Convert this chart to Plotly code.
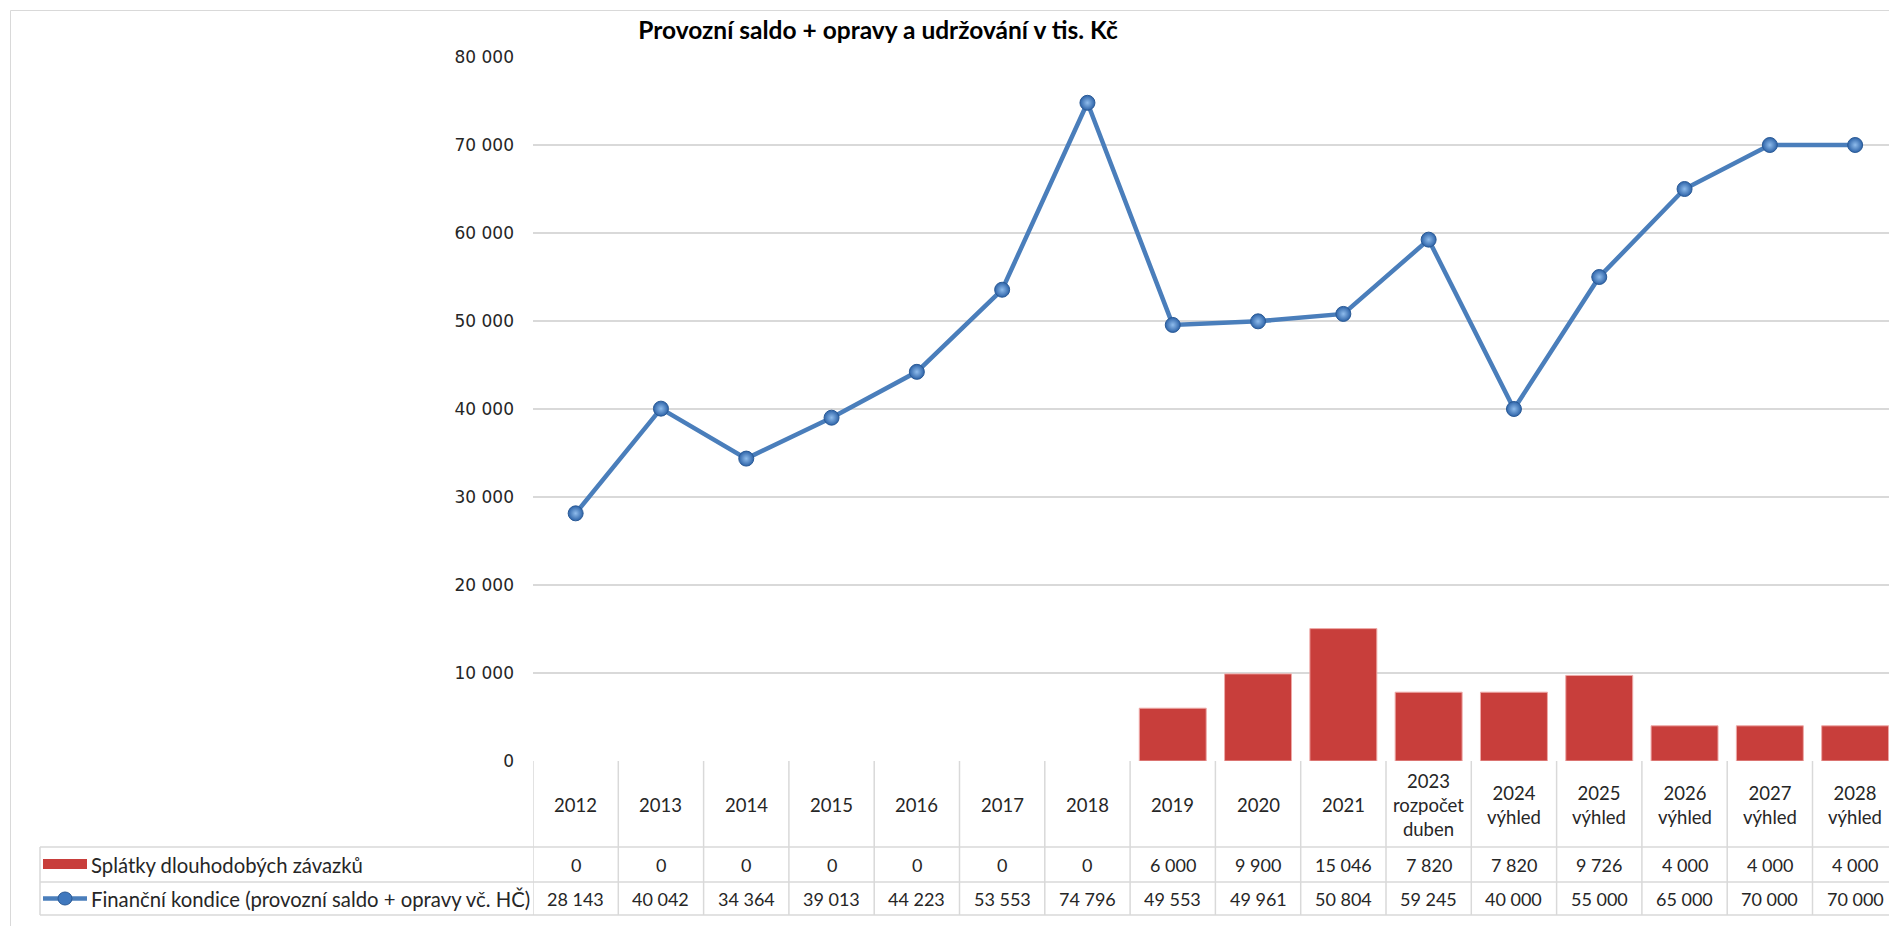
import plotly.graph_objects as go

# categories (header row of the data table)
years = ["2012", "2013", "2014", "2015", "2016", "2017", "2018", "2019", "2020", "2021",
         "2023\nrozpočet\nduben", "2024\nvýhled", "2025\nvýhled", "2026\nvýhled",
         "2027\nvýhled", "2028\nvýhled"]
# series
splatky = [0, 0, 0, 0, 0, 0, 0, 6000, 9900, 15046, 7820, 7820, 9726, 4000, 4000, 4000]
kondice = [28143, 40042, 34364, 39013, 44223, 53553, 74796, 49553, 49961, 50804,
           59245, 40000, 55000, 65000, 70000, 70000]
y_ticks = [0, 10000, 20000, 30000, 40000, 50000, 60000, 70000, 80000]

name_bar = "Splátky dlouhodobých závazků"
name_line = "Finanční kondice (provozní saldo + opravy vč. HČ)"
title = "Provozní saldo + opravy a udržování v tis. Kč"

W, H = 1889, 926
L, T, B = 533, 57, 165
PW = W - L
PH = H - T - B
COL = 85.3  # px per category column

GRID = "#d9d9d9"
TXT = "#262626"
FONT = "Lato"


def px(x):
    return (x - L) / PW


def py(y):
    return (T + PH - y) / PH


def fmt(v):
    return f"{v:,}".replace(",", " ")


idx = list(range(len(years)))

fig = go.Figure()
fig.add_trace(go.Bar(
    x=idx, y=splatky, name=name_bar,
    marker=dict(color="#c83e3b",
                line=dict(color="#eeaaa8", width=[0 if v == 0 else 1 for v in splatky])),
))
fig.add_trace(go.Scatter(
    x=idx, y=kondice, name=name_line, mode="lines+markers",
    line=dict(color="#4a7ebb", width=4.5),
    marker=dict(size=15, color="#2d63a8",
                gradient=dict(type="radial", color="#8fbcec"),
                line=dict(color="#2a5a96", width=1)),
))

shapes = []
annotations = []

# outer chart frame
shapes.append(dict(type="rect", xref="paper", yref="paper",
                   x0=px(10.5), x1=px(1900), y0=py(940), y1=py(10.5),
                   line=dict(color=GRID, width=1), layer="below"))

# data table grid
y_top, y_r1, y_r2, y_bot = 761, 847, 882, 915
for yy in (y_r1, y_r2, y_bot):
    shapes.append(dict(type="line", xref="paper", yref="paper",
                       x0=px(40), x1=1.01, y0=py(yy), y1=py(yy),
                       line=dict(color=GRID, width=1.5)))
shapes.append(dict(type="line", xref="paper", yref="paper",
                   x0=px(40), x1=px(40), y0=py(y_r1), y1=py(y_bot),
                   line=dict(color=GRID, width=1.5)))
for i in range(len(years) + 1):
    shapes.append(dict(type="line", xref="x", yref="paper",
                       x0=i - 0.5, x1=i - 0.5, y0=py(y_top), y1=py(y_bot),
                       line=dict(color=GRID, width=1.5)))

# legend keys inside the table
shapes.append(dict(type="rect", xref="paper", yref="paper",
                   x0=px(43), x1=px(87), y0=py(869), y1=py(859),
                   line=dict(width=0), fillcolor="#c83e3b"))
shapes.append(dict(type="line", xref="paper", yref="paper",
                   x0=px(43), x1=px(87), y0=py(898.5), y1=py(898.5),
                   line=dict(color="#4a7ebb", width=4.5)))
shapes.append(dict(type="circle", xref="paper", yref="paper",
                   x0=px(58), x1=px(72), y0=py(905), y1=py(892),
                   line=dict(color="#2a5a96", width=1), fillcolor="#3f78be"))

annotations.append(dict(xref="paper", yref="paper", x=px(89), y=py((y_r1 + y_r2) / 2),
                        text=name_bar, showarrow=False, xanchor="left", yanchor="middle",
                        font=dict(family=FONT, size=20.3, color=TXT)))
annotations.append(dict(xref="paper", yref="paper", x=px(89), y=py((y_r2 + y_bot) / 2),
                        text=name_line, showarrow=False, xanchor="left", yanchor="middle",
                        font=dict(family=FONT, size=20.3, color=TXT)))

for i, lab in enumerate(years):
    annotations.append(dict(xref="x", yref="paper", x=i, y=py((y_top + y_r1) / 2 + 1),
                            text=lab.replace("\n", "<br>"), showarrow=False,
                            xanchor="center", yanchor="middle",
                            font=dict(family=FONT, size=18.5, color=TXT)))
    annotations.append(dict(xref="x", yref="paper", x=i, y=py((y_r1 + y_r2) / 2),
                            text=fmt(splatky[i]), showarrow=False,
                            xanchor="center", yanchor="middle",
                            font=dict(family=FONT, size=18, color=TXT)))
    annotations.append(dict(xref="x", yref="paper", x=i, y=py((y_r2 + y_bot) / 2),
                            text=fmt(kondice[i]), showarrow=False,
                            xanchor="center", yanchor="middle",
                            font=dict(family=FONT, size=18, color=TXT)))

fig.update_layout(
    width=W, height=H,
    margin=dict(l=L, r=0, t=T, b=B),
    paper_bgcolor="white", plot_bgcolor="white",
    separators=", ",
    showlegend=False,
    bargap=0.215,
    title=dict(text="<b>" + title + "</b>", x=px(878), xref="paper", xanchor="center",
               y=1 - 30 / H, yref="container", yanchor="middle",
               font=dict(family=FONT, size=24.5, color="black")),
    shapes=shapes,
    annotations=annotations,
)
fig.update_xaxes(range=[-0.5, -0.5 + PW / COL], showticklabels=False,
                 showgrid=False, zeroline=False, showline=False, fixedrange=True)
fig.update_yaxes(range=[0, 80000], tickvals=y_ticks, tickformat=",d",
                 showgrid=True, gridcolor=GRID, gridwidth=1.5, zeroline=False,
                 showline=False, ticklabelstandoff=18,
                 tickfont=dict(family="DejaVu Sans", size=17, color=TXT))

fig.write_html("out.html", config={"displayModeBar": False},
               post_script="document.body.style.margin='0';document.body.style.overflow='hidden';")
